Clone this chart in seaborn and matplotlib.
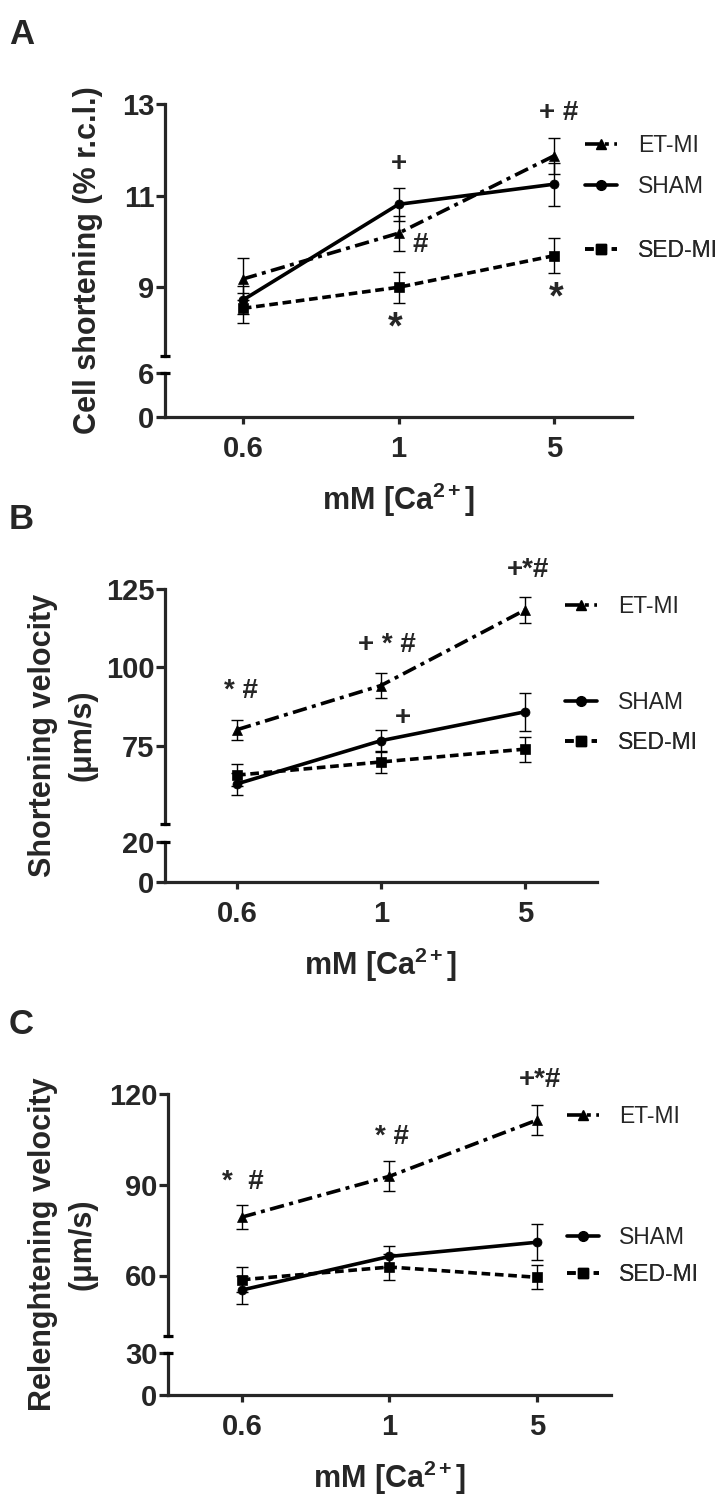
import matplotlib
matplotlib.use("Agg")
import matplotlib.pyplot as plt
import pandas as pd
import seaborn as sns
from matplotlib.lines import Line2D

# x categories
ca_labels = ["0.6", "1", "5"]
groups = ["ET-MI", "SHAM", "SED-MI"]

# A - cell shortening (% r.c.l.), mean and SEM
short_etmi = [9.18, 10.18, 11.87]
short_etmi_sem = [0.46, 0.38, 0.39]
short_sham = [8.72, 10.81, 11.25]
short_sham_sem = [0.30, 0.36, 0.47]
short_sed = [8.54, 9.00, 9.69]
short_sed_sem = [0.33, 0.34, 0.38]

# B - shortening velocity (um/s)
vshort_etmi = [80.1, 94.2, 118.3]
vshort_etmi_sem = [3.2, 4.0, 4.0]
vshort_sham = [62.8, 76.6, 85.8]
vshort_sham_sem = [3.5, 3.5, 6.0]
vshort_sed = [65.6, 69.8, 73.9]
vshort_sed_sem = [3.5, 3.5, 4.0]

# C - relengthening velocity (um/s)
vrel_etmi = [79.3, 92.8, 111.4]
vrel_etmi_sem = [3.9, 5.0, 5.0]
vrel_sham = [55.2, 66.3, 71.0]
vrel_sham_sem = [4.6, 3.6, 6.0]
vrel_sed = [58.6, 62.8, 59.4]
vrel_sed_sem = [4.2, 4.4, 4.0]

markers = {"ET-MI": "^", "SHAM": "o", "SED-MI": "s"}
dashes = {"ET-MI": (4.0, 1.5, 1.1, 1.5), "SHAM": "", "SED-MI": (2.4, 1.3)}

W, H = 728, 1496
LW = 2.3
DATA_LW = 2.6

sns.set_style("ticks")
plt.rcParams["font.family"] = ["Liberation Sans", "DejaVu Sans"]
plt.rcParams["mathtext.fontset"] = "custom"
plt.rcParams["mathtext.rm"] = "Liberation Sans"
plt.rcParams["mathtext.bf"] = "Liberation Sans:bold"
plt.rcParams["mathtext.it"] = "Liberation Sans:italic"

fig = plt.figure(figsize=(W / 100, H / 100), dpi=100)


def px_axes(left, top, right, bottom):
    return fig.add_axes([left / W, 1 - bottom / H, (right - left) / W, (bottom - top) / H])


def cap(ax, y):
    # little bar closing each part of the broken y axis
    ax.plot([0], [y], marker="_", ms=7.5, mew=LW, color="black",
            transform=ax.transAxes, clip_on=False, zorder=5)


def draw_panel(letter, box, means, sems, ylim_top, yticks_top, ylim_low, yticks_low,
               ylabel, ylabel_x, annots, legend_x, legend_y):
    left, right, top, mid_a, mid_b, bottom = box
    ax = px_axes(left, top, right, mid_a)
    axl = px_axes(left, mid_b, right, bottom)

    rows = []
    for g, m in zip(groups, means):
        for i, v in enumerate(m):
            rows.append({"group": g, "pos": i, "value": v})
    df = pd.DataFrame(rows)

    for g, m, s in zip(groups, means, sems):
        ax.errorbar(range(len(m)), m, yerr=s, fmt="none", ecolor="black",
                    elinewidth=1.0, capsize=4, capthick=1.0, zorder=2)
    sns.lineplot(data=df, x="pos", y="value", hue="group", style="group",
                 hue_order=groups, style_order=groups, palette=["black"] * 3,
                 markers=markers, dashes=dashes, lw=DATA_LW, markersize=6.5,
                 markeredgecolor="black", mew=0.5, errorbar=None,
                 legend=False, ax=ax, zorder=3)

    for a in (ax, axl):
        a.set_xlim(-0.5, 2.5)
        a.spines["top"].set_visible(False)
        a.spines["right"].set_visible(False)
        a.spines["left"].set_linewidth(LW)
        a.tick_params(axis="y", length=6.5, width=LW, pad=1, labelsize=21)
        a.set_xlabel("")
        a.set_ylabel("")
        a.patch.set_alpha(0)

    ax.set_ylim(*ylim_top)
    ax.set_yticks(yticks_top)
    ax.set_yticklabels([str(t) for t in yticks_top], fontweight="bold")
    ax.spines["bottom"].set_visible(False)
    ax.set_xticks([])
    cap(ax, 0)

    axl.set_ylim(*ylim_low)
    axl.set_yticks(yticks_low)
    axl.set_yticklabels([str(t) for t in yticks_low], fontweight="bold")
    axl.spines["bottom"].set_linewidth(LW)
    axl.set_xticks(range(len(ca_labels)))
    axl.set_xticklabels(ca_labels, fontweight="bold")
    axl.tick_params(axis="x", length=5, width=LW, pad=8, labelsize=21)
    axl.set_xlabel(r"mM [Ca$^{\mathbf{2+}}$]", fontsize=22, fontweight="bold", labelpad=13)
    cap(axl, 1)

    for x, y, txt in annots:
        size = 27 if txt == "*" else 20
        ax.text(x, y, txt, ha="center", va="center", fontsize=size, fontweight="bold",
                clip_on=False)

    for g, ly in zip(groups, legend_y):
        h = Line2D([], [], color="black", lw=DATA_LW, marker=markers[g], markersize=7,
                   linestyle="-" if dashes[g] == "" else (0, dashes[g]))
        leg = ax.legend([h], [g], loc="center left", bbox_to_anchor=(legend_x, ly),
                        bbox_transform=ax.transData, frameon=False, handlelength=1.4,
                        handletextpad=0.9, borderpad=0, borderaxespad=0, fontsize=16.5)
        ax.add_artist(leg)

    fig.text(ylabel_x / W, 1 - (top + bottom) / 2 / H, ylabel, rotation=90,
             ha="center", va="center", multialignment="center", fontsize=22,
             fontweight="bold", linespacing=1.4)
    fig.text(9 / W, 1 - (top - 86) / H, letter, ha="left", va="top",
             fontsize=25, fontweight="bold")


draw_panel("A", (165, 632, 104, 356, 373, 417),
           [short_etmi, short_sham, short_sed],
           [short_etmi_sem, short_sham_sem, short_sed_sem],
           (7.5, 13), [9, 11, 13], (0, 6), [0, 6],
           "Cell shortening (% r.c.l.)", 88,
           [(2.03, 12.8, "+ #"), (1.0, 11.7, "+"), (1.14, 9.93, "#"),
            (0.98, 8.1, "*"), (2.01, 8.76, "*")],
           2.2, [12.1, 11.2, 9.8])

draw_panel("B", (165, 597, 589, 824, 842, 882),
           [vshort_etmi, vshort_sham, vshort_sed],
           [vshort_etmi_sem, vshort_sham_sem, vshort_sed_sem],
           (50, 125), [75, 100, 125], (0, 20), [0, 20],
           "Shortening velocity\n(\u03bcm/s)", 63,
           [(0.03, 92.5, "* #"), (1.04, 107, "+ * #"), (2.02, 131, "+*#"),
            (1.15, 83.9, "+")],
           2.28, [119.5, 88.8, 76.0])

draw_panel("C", (168, 611, 1094, 1336, 1353, 1395),
           [vrel_etmi, vrel_sham, vrel_sed],
           [vrel_etmi_sem, vrel_sham_sem, vrel_sed_sem],
           (40, 120), [60, 90, 120], (0, 30), [0, 30],
           "Relenghtening velocity\n(\u03bcm/s)", 63,
           [(0.01, 91, "*  #"), (1.02, 105.9, "* #"), (2.02, 124.6, "+*#")],
           2.2, [112.4, 72.6, 60.3])

fig.savefig("out.png", dpi=100)
